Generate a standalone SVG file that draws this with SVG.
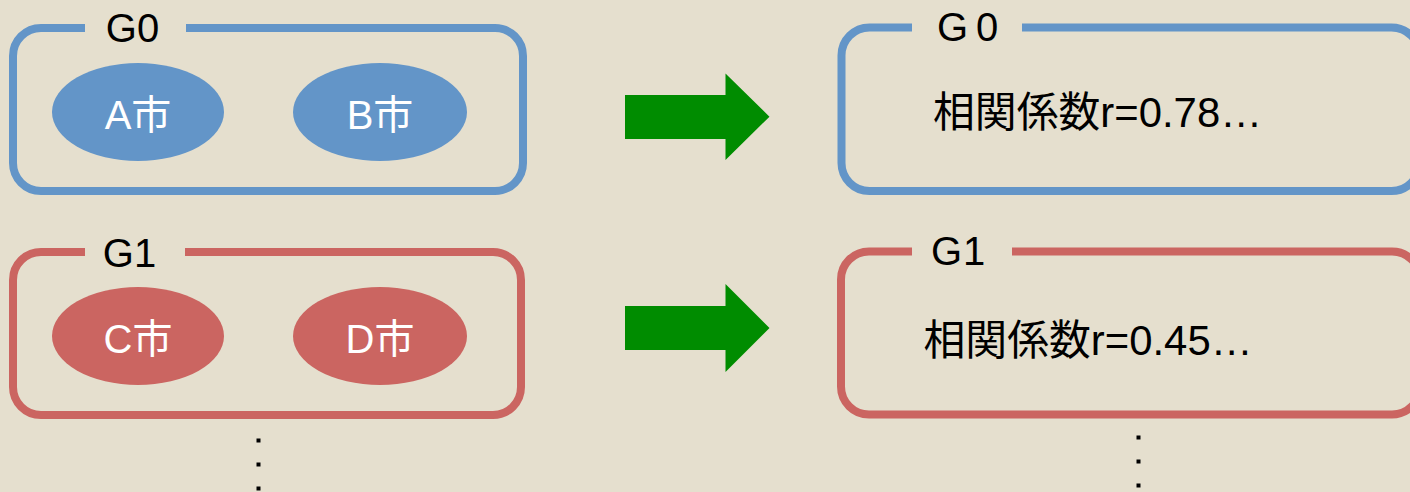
<svg xmlns="http://www.w3.org/2000/svg" width="1410" height="492" viewBox="0 0 1410 492">
<style>
.bg{fill:#E5DFCE}
.box{fill:none;stroke-width:8}
.blue{stroke:#6395C8}
.red{stroke:#CB6561}
.gap{fill:#E5DFCE}
.lbl{font-family:"Liberation Sans","Noto Sans CJK JP",sans-serif;font-size:40px;fill:#000;text-anchor:middle}
.lblr{font-family:"Liberation Sans","Noto Sans CJK JP",sans-serif;font-size:40px;fill:#000}
.city{font-family:"Liberation Sans","Noto Sans CJK JP",sans-serif;font-size:40px;fill:#fff;text-anchor:middle}
.res{font-family:"Liberation Sans","Noto Sans CJK JP",sans-serif;font-size:42px;fill:#000}
.arrow{fill:#008C00}
.dot{fill:#000}
</style>
<rect class="bg" x="0" y="0" width="1410" height="492"/>

<g id="G0-left">
<rect class="box blue" x="13" y="28" width="510" height="163" rx="28" ry="28"/>
<rect class="gap" x="85" y="20" width="101" height="16"/>
<text class="lbl" x="132.5" y="42">G0</text>
<g id="A">
<ellipse cx="138" cy="112" rx="86" ry="49" fill="#6395C8"/>
<text class="city" x="138" y="129">A市</text>
</g>
<g id="B">
<ellipse cx="380" cy="112" rx="87" ry="49" fill="#6395C8"/>
<text class="city" x="380" y="129">B市</text>
</g>
</g>

<g id="G1-left">
<rect class="box red" x="13" y="252" width="508" height="163" rx="28" ry="28"/>
<rect class="gap" x="85" y="244" width="100" height="16"/>
<text class="lbl" x="129.5" y="266.5">G1</text>
<g id="C">
<ellipse cx="138" cy="336" rx="86" ry="49" fill="#CB6561"/>
<text class="city" x="138" y="352.5">C市</text>
</g>
<g id="D">
<ellipse cx="380" cy="336" rx="87" ry="49" fill="#CB6561"/>
<text class="city" x="380" y="352.5">D市</text>
</g>
</g>

<g id="connectors">
<polygon class="arrow" points="625,95 725.5,95 725.5,73.5 769.5,116.7 725.5,160 725.5,139 625,139"/>
<polygon class="arrow" points="625,306 725.5,306 725.5,284 769.5,328 725.5,372 725.5,350 625,350"/>
</g>

<g id="G0-right">
<rect class="box blue" x="841.5" y="27.5" width="578" height="163.5" rx="28" ry="28"/>
<rect class="gap" x="912" y="19" width="110" height="16"/>
<text class="lblr" x="937" y="41" letter-spacing="8">G0</text>
<text class="res" x="933" y="127" textLength="329" lengthAdjust="spacingAndGlyphs">相関係数r=0.78…</text>
</g>

<g id="G1-right">
<rect class="box red" x="841" y="251.5" width="579" height="163" rx="28" ry="28"/>
<rect class="gap" x="912" y="243" width="100" height="16"/>
<text class="lblr" x="931" y="265" letter-spacing="1">G1</text>
<text class="res" x="923.5" y="355" textLength="329" lengthAdjust="spacingAndGlyphs">相関係数r=0.45…</text>
</g>

<g id="ellipsis-left">
<rect class="dot" x="256.5" y="438.5" width="4" height="4"/>
<rect class="dot" x="256.5" y="462.5" width="4" height="4"/>
<rect class="dot" x="256.5" y="486.5" width="4" height="4"/>
</g>
<g id="ellipsis-right">
<rect class="dot" x="1136.5" y="435.5" width="4" height="4"/>
<rect class="dot" x="1136.5" y="459.5" width="4" height="4"/>
<rect class="dot" x="1136.5" y="483.5" width="4" height="4"/>
</g>
</svg>
